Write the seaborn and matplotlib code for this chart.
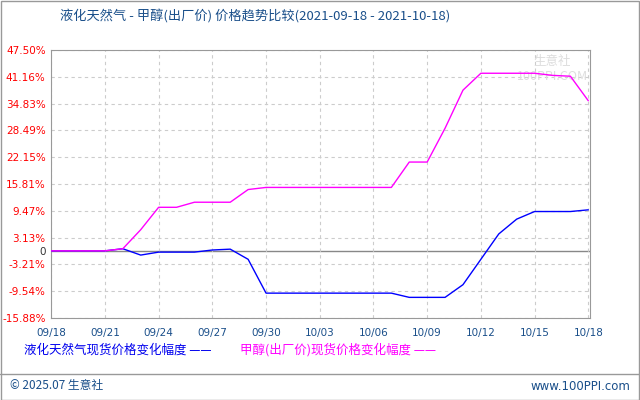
import matplotlib
matplotlib.use("Agg")
import matplotlib.pyplot as plt
import seaborn as sns
import pandas as pd

dates = ["09/18","09/19","09/20","09/21","09/22","09/23","09/24","09/25","09/26","09/27","09/28","09/29","09/30",
         "10/01","10/02","10/03","10/04","10/05","10/06","10/07","10/08","10/09","10/10","10/11","10/12","10/13",
         "10/14","10/15","10/16","10/17","10/18"]
lng = [0,0,0,0,0.5,-1,-0.3,-0.3,-0.3,0.2,0.4,-2,-10,-10,-10,-10,-10,-10,-10,-10,-11,-11,-11,-8,-2,4,7.5,9.3,9.3,9.3,9.7]
meoh = [0,0,0,0,0.5,5,10.3,10.3,11.5,11.5,11.5,14.5,15,15,15,15,15,15,15,15,21,21,29,38,42,42,42,42,41.5,41.3,35.5]
yticks = [47.50,41.16,34.83,28.49,22.15,15.81,9.47,3.13,0,-3.21,-9.54,-15.88]
xtick_labels = ["09/18","09/21","09/24","09/27","09/30","10/03","10/06","10/09","10/12","10/15","10/18"]

sns.set_style("white")
plt.rcParams['font.family'] = ['Noto Sans CJK SC', 'DejaVu Sans']
df = pd.DataFrame({"d": range(len(dates)), "lng": lng, "meoh": meoh})

fig = plt.figure(figsize=(6.4, 4.0), dpi=100)
ax = fig.add_axes([0.080, 0.205, 0.842, 0.670])
for y in yticks:
    if y == 0:
        ax.axhline(0, color="#888888", lw=1, zorder=1)
    else:
        ax.axhline(y, color="#cccccc", lw=0.8, ls=(0, (3, 3)), zorder=1)
xt = [dates.index(l) for l in xtick_labels]
for x in xt:
    ax.axvline(x, color="#cccccc", lw=0.8, ls=(0, (3, 3)), zorder=1)
sns.lineplot(data=df, x="d", y="lng", color="#0000ff", lw=1, ax=ax, zorder=3)
sns.lineplot(data=df, x="d", y="meoh", color="#ff00ff", lw=1, ax=ax, zorder=3)
ax.set_xlim(0, 30.1)
ax.set_ylim(-15.88, 47.5)
ax.set_yticks(yticks)
ax.set_yticklabels([("0" if y == 0 else f"{y:.2f}%") for y in yticks], fontsize=7.5, family="DejaVu Sans")
for lab, y in zip(ax.get_yticklabels(), yticks):
    lab.set_color("#333333" if y == 0 else "#ff0000")
ax.set_xticks(xt)
ax.set_xticklabels(xtick_labels, fontsize=7.5, color="#1a4f8a", family="DejaVu Sans")
ax.tick_params(axis="y", length=0, pad=4)
ax.tick_params(axis="x", length=0, pad=7)
ax.set_xlabel(""); ax.set_ylabel("")
for s in ax.spines.values():
    s.set_color("#999999")
ax.text(0.93, 0.93, "生意社\n100PPI.COM", transform=ax.transAxes, ha="center", va="center",
        fontsize=9, color="#dddddd", zorder=2)

fig.text(0.093, 0.958, "液化天然气 - 甲醇(出厂价) 价格趋势比较(2021-09-18 - 2021-10-18)",
         fontsize=9.5, color="#1a4f8a", va="center")
fig.text(0.038, 0.125, "液化天然气现货价格变化幅度 ——", fontsize=9, color="#0000ee", va="center")
fig.text(0.375, 0.125, "甲醇(出厂价)现货价格变化幅度 ——", fontsize=9, color="#ff00ff", va="center")
fig.add_artist(plt.Line2D([0.0, 1.0], [0.065, 0.065], transform=fig.transFigure, color="#999999", lw=1))
fig.text(0.015, 0.035, "© 2025.07 生意社", fontsize=8.5, color="#1a4f8a", va="center")
fig.text(0.985, 0.035, "www.100PPI.com", fontsize=8.5, color="#1a4f8a", va="center", ha="right", family="DejaVu Sans")
fig.add_artist(plt.Rectangle((0.001, 0.001), 0.997, 0.997, transform=fig.transFigure, fill=False, ec="#999999", lw=1))
fig.savefig("out.png", dpi=100)
